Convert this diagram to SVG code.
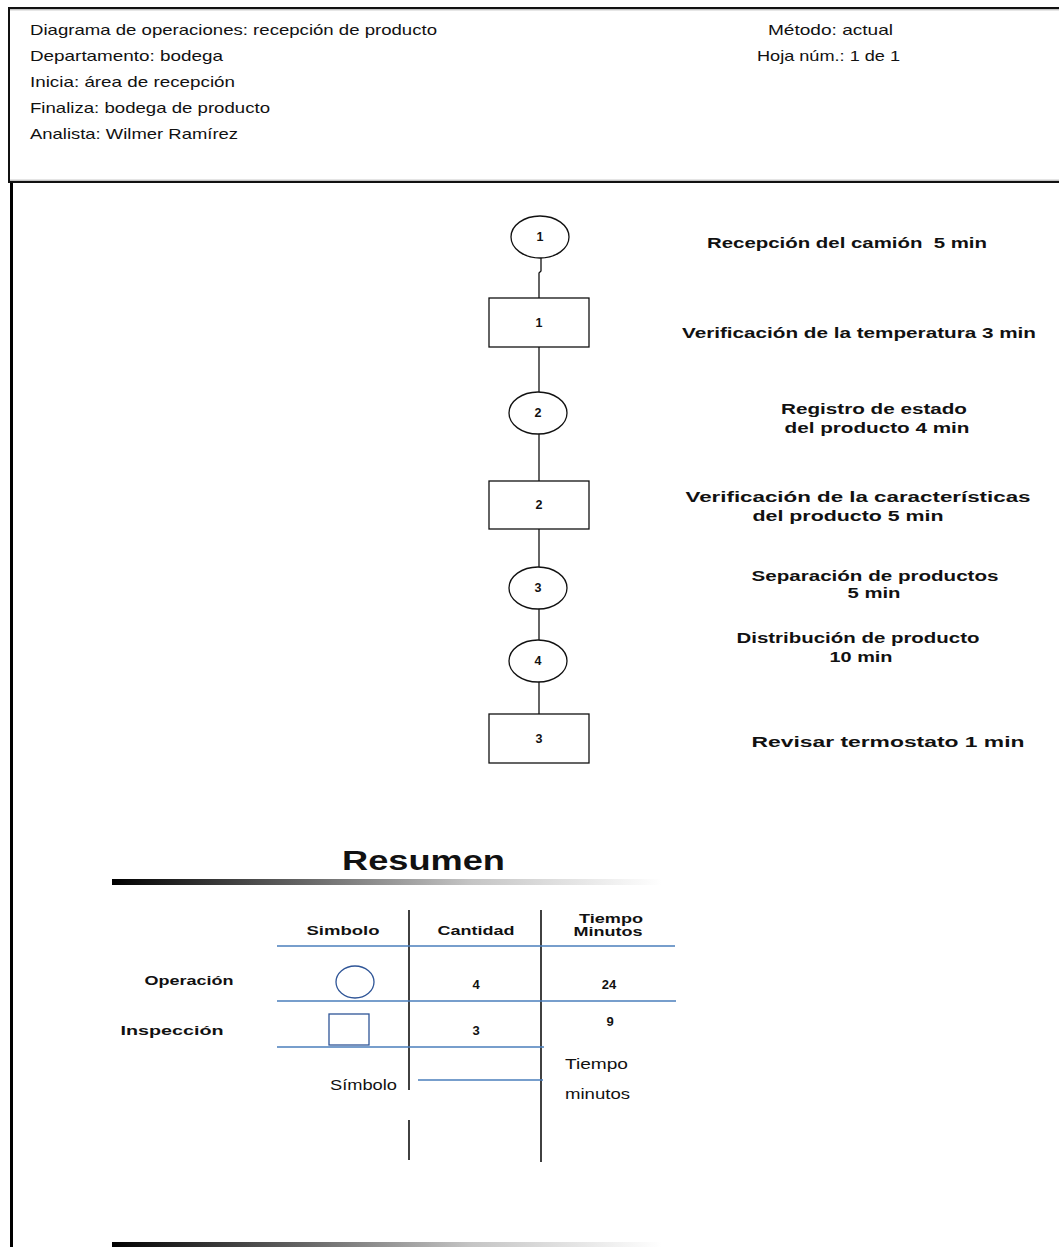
<svg xmlns="http://www.w3.org/2000/svg" width="1059" height="1247" viewBox="0 0 1059 1247">
<style>
.h{font-family:"Liberation Sans",Arial,sans-serif;font-size:15px;fill:#111}
.lb{font-family:"Liberation Sans",Arial,sans-serif;font-size:14px;font-weight:bold;fill:#111;text-anchor:middle;white-space:pre}
.num{font-family:"Liberation Sans",Arial,sans-serif;font-size:12.5px;font-weight:bold;fill:#111;text-anchor:middle}
.tb{font-family:"Liberation Sans",Arial,sans-serif;font-size:13px;font-weight:bold;fill:#111;text-anchor:middle}
.tr{font-family:"Liberation Sans",Arial,sans-serif;font-size:15px;fill:#111}
.node{fill:#fff;stroke:#111;stroke-width:1.3}
.con{fill:none;stroke:#111;stroke-width:1.3}
.blue{stroke:#4a7ebb;stroke-width:1.3;fill:none}
.vl{stroke:#111;stroke-width:1.6}
</style>
<defs>
<linearGradient id="bar" x1="0" y1="0" x2="1" y2="0">
<stop offset="0" stop-color="#000"/>
<stop offset="0.03" stop-color="#0a0a0a"/>
<stop offset="0.35" stop-color="#666"/>
<stop offset="0.65" stop-color="#c4c4c4"/>
<stop offset="1" stop-color="#fff"/>
</linearGradient>
</defs>
<rect width="1059" height="1247" fill="#fff"/>
<g id="header">
<rect x="9" y="8" width="1060" height="174" fill="none" stroke="#111" stroke-width="2"/>
<line x1="10" y1="9.8" x2="1059" y2="9.8" stroke="#aaa" stroke-width="1"/>
<line x1="10" y1="180.2" x2="1059" y2="180.2" stroke="#aaa" stroke-width="1"/>
<line x1="11.5" y1="183" x2="11.5" y2="1247" stroke="#000" stroke-width="3"/>
<text class="h" x="30" y="35" textLength="407" lengthAdjust="spacingAndGlyphs">Diagrama de operaciones: recepción de producto</text>
<text class="h" x="30" y="61" textLength="193" lengthAdjust="spacingAndGlyphs">Departamento: bodega</text>
<text class="h" x="30" y="87" textLength="205" lengthAdjust="spacingAndGlyphs">Inicia: área de recepción</text>
<text class="h" x="30" y="113" textLength="240" lengthAdjust="spacingAndGlyphs">Finaliza: bodega de producto</text>
<text class="h" x="30" y="139" textLength="208" lengthAdjust="spacingAndGlyphs">Analista: Wilmer Ramírez</text>
<text class="h" x="768" y="35" textLength="125" lengthAdjust="spacingAndGlyphs">Método: actual</text>
<text class="h" x="757" y="61" textLength="143" lengthAdjust="spacingAndGlyphs">Hoja núm.: 1 de 1</text>
</g>
<g id="connectors">
<path class="con" d="M541,258 V271 L539,273 V298"/>
<line class="con" x1="539" y1="347" x2="539" y2="392"/>
<line class="con" x1="539" y1="434" x2="539" y2="481"/>
<line class="con" x1="539" y1="529" x2="539" y2="567"/>
<line class="con" x1="539" y1="609" x2="539" y2="640"/>
<line class="con" x1="539" y1="682" x2="539" y2="714"/>
</g>
<g id="op1">
<ellipse class="node" cx="540" cy="237" rx="29" ry="21"/>
<text class="num" x="540" y="241">1</text>
<text class="lb" x="847" y="248" textLength="280" lengthAdjust="spacingAndGlyphs">Recepción del camión  5 min</text>
</g>
<g id="ins1">
<rect class="node" x="489" y="298" width="100" height="49"/>
<text class="num" x="539" y="327">1</text>
<text class="lb" x="859" y="338" textLength="354" lengthAdjust="spacingAndGlyphs">Verificación de la temperatura 3 min</text>
</g>
<g id="op2">
<ellipse class="node" cx="538" cy="413" rx="29" ry="21"/>
<text class="num" x="538" y="417">2</text>
<text class="lb" x="874" y="414" textLength="186" lengthAdjust="spacingAndGlyphs">Registro de estado</text>
<text class="lb" x="877" y="433" textLength="185" lengthAdjust="spacingAndGlyphs">del producto 4 min</text>
</g>
<g id="ins2">
<rect class="node" x="489" y="481" width="100" height="48"/>
<text class="num" x="539" y="509">2</text>
<text class="lb" x="858" y="502" textLength="345" lengthAdjust="spacingAndGlyphs">Verificación de la características</text>
<text class="lb" x="848" y="521" textLength="191" lengthAdjust="spacingAndGlyphs">del producto 5 min</text>
</g>
<g id="op3">
<ellipse class="node" cx="538" cy="588" rx="29" ry="21"/>
<text class="num" x="538" y="592">3</text>
<text class="lb" x="875" y="581" textLength="247" lengthAdjust="spacingAndGlyphs">Separación de productos</text>
<text class="lb" x="874" y="598" textLength="53" lengthAdjust="spacingAndGlyphs">5 min</text>
</g>
<g id="op4">
<ellipse class="node" cx="538" cy="661" rx="29" ry="21"/>
<text class="num" x="538" y="665">4</text>
<text class="lb" x="858" y="643" textLength="243" lengthAdjust="spacingAndGlyphs">Distribución de producto</text>
<text class="lb" x="861" y="662" textLength="63" lengthAdjust="spacingAndGlyphs">10 min</text>
</g>
<g id="ins3">
<rect class="node" x="489" y="714" width="100" height="49"/>
<text class="num" x="539" y="743">3</text>
<text class="lb" x="888" y="747" textLength="273" lengthAdjust="spacingAndGlyphs">Revisar termostato 1 min</text>
</g>
<g id="resumen">
<text x="342" y="870" textLength="163" lengthAdjust="spacingAndGlyphs" style="font-family:'Liberation Sans',Arial,sans-serif;font-size:27px;font-weight:bold;fill:#111">Resumen</text>
<rect x="112" y="879" width="550" height="6" fill="url(#bar)"/>
<line class="vl" x1="409" y1="910" x2="409" y2="1090"/>
<line class="vl" x1="409" y1="1120" x2="409" y2="1160"/>
<line class="vl" x1="541" y1="910" x2="541" y2="1162"/>
<line class="blue" x1="277" y1="946" x2="675" y2="946"/>
<line class="blue" x1="277" y1="1001" x2="676" y2="1001"/>
<line class="blue" x1="277" y1="1047" x2="544" y2="1047"/>
<line class="blue" x1="418" y1="1080" x2="543" y2="1080"/>
<text class="tb" x="343" y="935" textLength="73" lengthAdjust="spacingAndGlyphs">Simbolo</text>
<text class="tb" x="476" y="935" textLength="77" lengthAdjust="spacingAndGlyphs">Cantidad</text>
<text class="tb" x="611" y="923" textLength="64" lengthAdjust="spacingAndGlyphs">Tiempo</text>
<text class="tb" x="608" y="936" textLength="69" lengthAdjust="spacingAndGlyphs">Minutos</text>
<text class="tb" x="189" y="985" textLength="89" lengthAdjust="spacingAndGlyphs">Operación</text>
<ellipse cx="355" cy="982" rx="19" ry="16" fill="none" stroke="#2f5597" stroke-width="1.3"/>
<text class="tb" x="476" y="989">4</text>
<text class="tb" x="609" y="989">24</text>
<text class="tb" x="172" y="1035" textLength="103" lengthAdjust="spacingAndGlyphs">Inspección</text>
<rect x="329" y="1014" width="40" height="31" fill="none" stroke="#2f5597" stroke-width="1.3"/>
<text class="tb" x="476" y="1035">3</text>
<text class="tb" x="610" y="1026">9</text>
<text class="tr" x="330" y="1090" textLength="67" lengthAdjust="spacingAndGlyphs">Símbolo</text>
<text class="tr" x="565" y="1069" textLength="63" lengthAdjust="spacingAndGlyphs">Tiempo</text>
<text class="tr" x="565" y="1099" textLength="65" lengthAdjust="spacingAndGlyphs">minutos</text>
<rect x="112" y="1242" width="550" height="5" fill="url(#bar)"/>
</g>
</svg>
